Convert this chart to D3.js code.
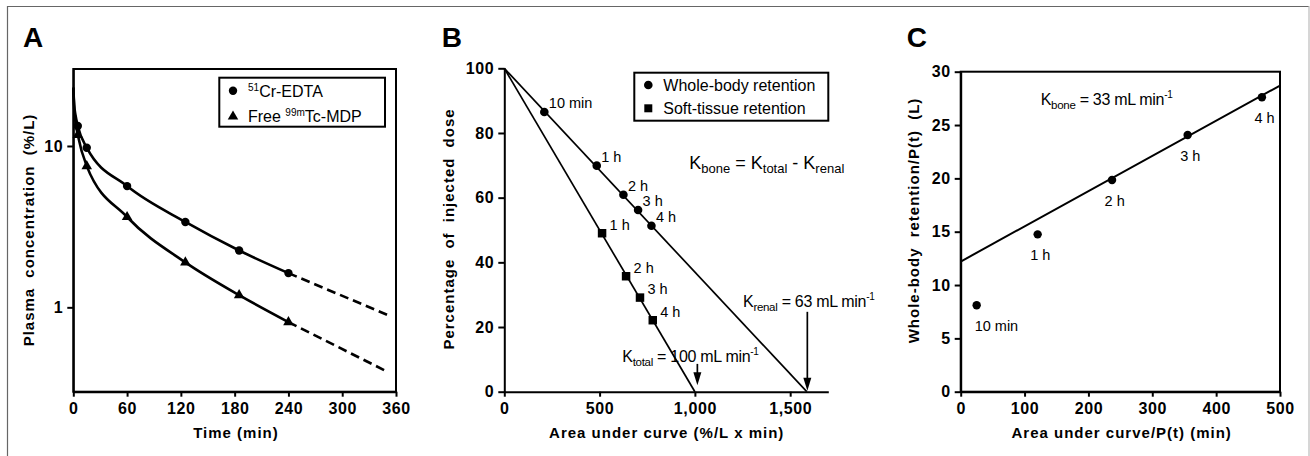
<!DOCTYPE html>
<html><head><meta charset="utf-8">
<script src="https://cdn.jsdelivr.net/npm/d3@7"></script>
<style>
body{margin:0;background:#fff;}
svg{display:block;font-family:"Liberation Sans",Arial,Helvetica,sans-serif;}
</style></head><body>
<svg id="chart" width="1310" height="456"></svg>
<script>
// ---------- Panel A data ----------
const aTimes = [5, 15, 60, 125, 185, 240];
const aCrEdta = [13.3, 9.76, 5.64, 3.38, 2.25, 1.63];
const aTcMdp = [11.7, 7.5, 3.63, 1.9, 1.19, 0.81];
const aFitTimes = [0, 1, 2.5, 5, 15, 60, 125, 185, 240];
const aFitCr = [23, 18, 15.5, 13.3, 9.76, 5.64, 3.38, 2.25, 1.63];
const aFitTc = [23, 17, 14, 11.7, 7.5, 3.63, 1.9, 1.19, 0.81];
const aExtTimes = [240, 350];
const aExtCr = [1.63, 0.90];
const aExtTc = [0.81, 0.40];
const aXTicks = [0, 60, 120, 180, 240, 300, 360];
const aYTicks = [1, 10];

// ---------- Panel B data ----------
const bWholeX = [210, 485, 625, 702, 772];
const bWholeY = [86.5, 69.9, 60.9, 56.2, 51.3];
const bWholeLabels = ["10 min", "1 h", "2 h", "3 h", "4 h"];
const bSoftX = [513, 639, 712, 779];
const bSoftY = [49.0, 35.7, 29.1, 22.1];
const bSoftLabels = ["1 h", "2 h", "3 h", "4 h"];
const bWholeLineX = [0, 1587];
const bWholeLineY = [100, 0];
const bSoftLineX = [0, 1000];
const bSoftLineY = [100, 0];
const bXTicks = [0, 500, 1000, 1500];
const bYTicks = [0, 20, 40, 60, 80, 100];

// ---------- Panel C data ----------
const cX = [25, 120.5, 237, 355.4, 471.7];
const cY = [8.1, 14.75, 19.84, 24.06, 27.6];
const cLabels = ["10 min", "1 h", "2 h", "3 h", "4 h"];
const cFitX = [0, 500];
const cFitY = [12.2, 28.7];
const cXTicks = [0, 100, 200, 300, 400, 500];
const cYTicks = [0, 5, 10, 15, 20, 25, 30];

const svg = d3.select("#chart");
const FONT = '"Liberation Sans",Arial,Helvetica,sans-serif';

// outer border
svg.append("line").attr("x1", 7).attr("x2", 1309).attr("y1", 6.5).attr("y2", 6.5).attr("stroke", "#666").attr("stroke-width", 1.2);
svg.append("line").attr("x1", 7.5).attr("x2", 7.5).attr("y1", 6).attr("y2", 456).attr("stroke", "#666").attr("stroke-width", 1.2);
svg.append("line").attr("x1", 1309).attr("x2", 1309).attr("y1", 6).attr("y2", 456).attr("stroke", "#bbb").attr("stroke-width", 1.2);

function styleAxis(g) {
  g.attr("font-family", FONT).attr("font-size", 16).attr("font-weight", "bold");
  g.selectAll("path.domain").attr("stroke", "#000").attr("stroke-width", 2);
  g.selectAll(".tick line").attr("stroke", "#000").attr("stroke-width", 2);
  g.selectAll(".tick text").attr("fill", "#000").attr("letter-spacing", "0.6px");
}

function panelLetter(x, y, t) {
  svg.append("text").attr("x", x).attr("y", y).attr("font-size", 28).attr("font-weight", "bold").text(t);
}
function xTitle(x, y, t) {
  svg.append("text").attr("x", x).attr("y", y).attr("text-anchor", "middle").attr("font-size", 15)
    .attr("font-weight", "bold").attr("letter-spacing", "1px").text(t);
}
function yTitle(x, y, t) {
  svg.append("text").attr("transform", `translate(${x},${y}) rotate(-90)`).attr("text-anchor", "middle")
    .attr("font-size", 15).attr("font-weight", "bold").attr("letter-spacing", "1px")
    .attr("word-spacing", "5px").text(t);
}

// ================= Panel A =================
const ax = d3.scaleLinear().domain([0, 360]).range([73.3, 396]);
const ay = d3.scaleLog().domain([0.3, 30]).range([391.7, 69]);

svg.append("rect").attr("x", ax(0)).attr("y", ay(30)).attr("width", ax(360) - ax(0)).attr("height", ay(0.3) - ay(30))
  .attr("fill", "none").attr("stroke", "#000").attr("stroke-width", 2);
svg.append("g").attr("transform", `translate(0,${ay(0.3)})`)
  .call(d3.axisBottom(ax).tickValues(aXTicks).tickSize(5).tickPadding(6).tickSizeOuter(0)).call(styleAxis);
svg.append("g").attr("transform", `translate(${ax(0)},0)`)
  .call(d3.axisLeft(ay).tickValues(aYTicks).tickFormat(d3.format("d")).tickSize(6).tickPadding(4).tickSizeOuter(0)).call(styleAxis);

const aLine = d3.line().x(d => ax(d[0])).y(d => ay(d[1])).curve(d3.curveMonotoneX);
svg.append("path").attr("d", aLine(aFitTimes.map((t, i) => [t, aFitCr[i]]))).attr("fill", "none").attr("stroke", "#000").attr("stroke-width", 2.6);
svg.append("path").attr("d", aLine(aFitTimes.map((t, i) => [t, aFitTc[i]]))).attr("fill", "none").attr("stroke", "#000").attr("stroke-width", 2.6);
const aLin = d3.line().x(d => ax(d[0])).y(d => ay(d[1]));
svg.append("path").attr("d", aLin(aExtTimes.map((t, i) => [t, aExtCr[i]]))).attr("fill", "none").attr("stroke", "#000").attr("stroke-width", 2.6).attr("stroke-dasharray", "9,5");
svg.append("path").attr("d", aLin(aExtTimes.map((t, i) => [t, aExtTc[i]]))).attr("fill", "none").attr("stroke", "#000").attr("stroke-width", 2.6).attr("stroke-dasharray", "9,5");

svg.append("g").selectAll("circle").data(aTimes).join("circle")
  .attr("cx", (d) => ax(d)).attr("cy", (d, i) => ay(aCrEdta[i])).attr("r", 4.2);
svg.append("g").selectAll("path").data(aTimes).join("path")
  .attr("d", d3.symbol(d3.symbolTriangle, 48))
  .attr("transform", (d, i) => `translate(${ax(d)},${ay(aTcMdp[i])})`);

// legend A
svg.append("rect").attr("x", 219.3).attr("y", 77.7).attr("width", 165.7).attr("height", 49)
  .attr("fill", "#fff").attr("stroke", "#000").attr("stroke-width", 2);
svg.append("circle").attr("cx", 233).attr("cy", 90.7).attr("r", 4.2);
svg.append("path").attr("d", d3.symbol(d3.symbolTriangle, 48)).attr("transform", "translate(233,116.5)");
const la1 = svg.append("text").attr("x", 248).attr("y", 96.5).attr("font-size", 16);
la1.append("tspan").attr("font-size", 10).attr("dy", -6).text("51");
la1.append("tspan").attr("dy", 6).text("Cr-EDTA");
const la2 = svg.append("text").attr("x", 248).attr("y", 122.3).attr("font-size", 16);
la2.append("tspan").text("Free ");
la2.append("tspan").attr("font-size", 10).attr("dy", -6).text("99m");
la2.append("tspan").attr("dy", 6).text("Tc-MDP");

panelLetter(23, 47, "A");
xTitle(236, 437.5, "Time (min)");
yTitle(34, 230, "Plasma concentration (%/L)");

// ================= Panel B =================
const bx = d3.scaleLinear().domain([0, 1700]).range([504.3, 828.3]);
const by = d3.scaleLinear().domain([0, 100]).range([391.7, 68.3]);

svg.append("g").attr("transform", `translate(0,${by(0)})`)
  .call(d3.axisBottom(bx).tickValues(bXTicks).tickFormat(d3.format(",")).tickSize(5).tickPadding(6).tickSizeOuter(0)).call(styleAxis);
svg.append("g").attr("transform", `translate(${bx(0)},0)`)
  .call(d3.axisLeft(by).tickValues(bYTicks).tickSize(6).tickPadding(4).tickSizeOuter(0)).call(styleAxis);

const bLin = d3.line().x(d => bx(d[0])).y(d => by(d[1]));
svg.append("path").attr("d", bLin(bWholeLineX.map((v, i) => [v, bWholeLineY[i]]))).attr("fill", "none").attr("stroke", "#000").attr("stroke-width", 1.7);
svg.append("path").attr("d", bLin(bSoftLineX.map((v, i) => [v, bSoftLineY[i]]))).attr("fill", "none").attr("stroke", "#000").attr("stroke-width", 1.7);

svg.append("g").selectAll("circle").data(bWholeX).join("circle")
  .attr("cx", d => bx(d)).attr("cy", (d, i) => by(bWholeY[i])).attr("r", 4.3);
svg.append("g").selectAll("path").data(bSoftX).join("path")
  .attr("d", d3.symbol(d3.symbolSquare, 72))
  .attr("transform", (d, i) => `translate(${bx(d)},${by(bSoftY[i])})`);
svg.append("g").selectAll("text").data(bWholeLabels).join("text")
  .attr("x", (d, i) => bx(bWholeX[i]) + 4.5).attr("y", (d, i) => by(bWholeY[i]) - 4)
  .attr("font-size", 14.5).text(d => d);
svg.append("g").selectAll("text").data(bSoftLabels).join("text")
  .attr("x", (d, i) => bx(bSoftX[i]) + 7.5).attr("y", (d, i) => by(bSoftY[i]) - 3.5)
  .attr("font-size", 14.5).text(d => d);

// legend B
svg.append("rect").attr("x", 634.3).attr("y", 72.7).attr("width", 194).attr("height", 48)
  .attr("fill", "#fff").attr("stroke", "#000").attr("stroke-width", 2);
svg.append("circle").attr("cx", 648.3).attr("cy", 85).attr("r", 4.3);
svg.append("path").attr("d", d3.symbol(d3.symbolSquare, 64)).attr("transform", "translate(648.3,108.3)");
svg.append("text").attr("x", 663.3).attr("y", 90.7).attr("font-size", 16).text("Whole-body retention");
svg.append("text").attr("x", 663.3).attr("y", 114).attr("font-size", 16).text("Soft-tissue retention");

// formula
function kText(x, y, size, sub, rest) {
  const t = svg.append("text").attr("x", x).attr("y", y).attr("font-size", size).attr("letter-spacing", "-0.3px");
  t.append("tspan").text("K");
  t.append("tspan").attr("font-size", size * 0.72).attr("dy", 4).text(sub);
  t.append("tspan").attr("dy", -4).text(rest);
  return t;
}
const fk = svg.append("text").attr("x", 689.3).attr("y", 169).attr("font-size", 18);
fk.append("tspan").text("K");
fk.append("tspan").attr("font-size", 13).attr("dy", 4).text("bone");
fk.append("tspan").attr("dy", -4).text(" = K");
fk.append("tspan").attr("font-size", 13).attr("dy", 4).text("total");
fk.append("tspan").attr("dy", -4).text(" - K");
fk.append("tspan").attr("font-size", 13).attr("dy", 4).text("renal");

const kr = kText(743, 307, 16, "renal", " = 63 mL min");
kr.append("tspan").attr("font-size", 10).attr("dy", -7).text("-1");
const kt = kText(622.3, 361.5, 16, "total", " = 100 mL min");
kt.append("tspan").attr("font-size", 10).attr("dy", -7).text("-1");

// arrows
function arrow(xv, y0, y1) {
  const X = bx(xv);
  svg.append("line").attr("x1", X).attr("x2", X).attr("y1", by(y0)).attr("y2", by(y1) - 10).attr("stroke", "#000").attr("stroke-width", 1.7);
  svg.append("path").attr("d", `M${X - 4},${by(y1) - 13}L${X + 4},${by(y1) - 13}L${X},${by(y1)}Z`).attr("fill", "#000");
}
arrow(1590, 24.7, 0.3);
arrow(1013, 8.6, 2);

panelLetter(441.7, 46.5, "B");
xTitle(666.7, 437.5, "Area under curve (%/L x min)");
yTitle(453.5, 229, "Percentage of injected dose");

// ================= Panel C =================
const cx = d3.scaleLinear().domain([0, 500]).range([960.7, 1280]);
const cy = d3.scaleLinear().domain([0, 30]).range([391.7, 71.7]);

svg.append("rect").attr("x", cx(0)).attr("y", cy(30)).attr("width", cx(500) - cx(0)).attr("height", cy(0) - cy(30))
  .attr("fill", "none").attr("stroke", "#000").attr("stroke-width", 2);
svg.append("g").attr("transform", `translate(0,${cy(0)})`)
  .call(d3.axisBottom(cx).tickValues(cXTicks).tickSize(5).tickPadding(6).tickSizeOuter(0)).call(styleAxis);
svg.append("g").attr("transform", `translate(${cx(0)},0)`)
  .call(d3.axisLeft(cy).tickValues(cYTicks).tickSize(6).tickPadding(4).tickSizeOuter(0)).call(styleAxis);

const cLin = d3.line().x(d => cx(d[0])).y(d => cy(d[1]));
svg.append("path").attr("d", cLin(cFitX.map((v, i) => [v, cFitY[i]]))).attr("fill", "none").attr("stroke", "#000").attr("stroke-width", 2);
svg.append("g").selectAll("circle").data(cX).join("circle")
  .attr("cx", d => cx(d)).attr("cy", (d, i) => cy(cY[i])).attr("r", 4.2);
svg.append("g").selectAll("text").data(cLabels).join("text")
  .attr("x", (d, i) => cx(cX[i]) - (i === 0 ? 2 : 7.5)).attr("y", (d, i) => cy(cY[i]) + 26)
  .attr("font-size", 14.5).text(d => d);

const kb = kText(1040.7, 105, 16, "bone", " = 33 mL min");
kb.append("tspan").attr("font-size", 10).attr("dy", -7).text("-1");

panelLetter(906.7, 46.5, "C");
xTitle(1121.7, 437.5, "Area under curve/P(t) (min)");
yTitle(919, 220.5, "Whole-body retention/P(t) (L)");
</script>
</body></html>
